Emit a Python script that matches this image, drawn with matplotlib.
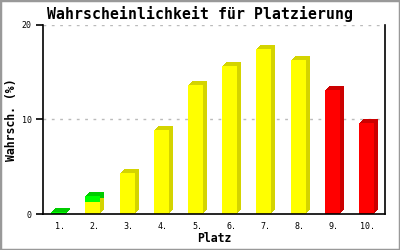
import matplotlib
matplotlib.use("Agg")
import matplotlib.pyplot as plt
import matplotlib.transforms as mtransforms
from matplotlib.patches import Rectangle

places = ["1.", "2.", "3.", "4.", "5.", "6.", "7.", "8.", "9.", "10."]
base_values = [0.0, 1.3, 4.3, 8.9, 13.6, 15.7, 17.5, 16.25, 13.15, 9.65]
top_values = [0.25, 0.65, 0, 0, 0, 0, 0, 0, 0, 0]
base_colors = ["#ffff00"] * 8 + ["#ff0000"] * 2
base_side = ["#d4d400"] * 8 + ["#cc0000"] * 2
top_color = "#00ff00"
top_side = "#00cc00"
y_ticks = [0, 10, 20]

fig = plt.figure(figsize=(4, 2.5), dpi=100)
fig.patches.append(Rectangle((0, 0), 1, 1, transform=fig.transFigure,
                             fill=False, edgecolor="#999999", linewidth=2.5))
ax = fig.add_axes([0.1075, 0.144, 0.855, 0.756])

x = list(range(len(places)))
w = 0.44
xs = [i - 0.04 for i in x]

# extrusion (3D depth) drawn as stacked offset copies of the bars
for d in [1, 2, 3, 4]:
    shadow = mtransforms.offset_copy(ax.transData, fig=fig, x=d, y=d, units="dots")
    ax.bar(xs, base_values, width=w, color=base_side, transform=shadow, zorder=2, linewidth=0)
    ax.bar(xs, top_values, bottom=base_values, width=w, color=top_side, transform=shadow,
           zorder=2, linewidth=0)
ax.bar(xs, base_values, width=w, color=base_colors, zorder=3, linewidth=0)
ax.bar(xs, top_values, bottom=base_values, width=w, color=top_color, zorder=3, linewidth=0)

ax.set_xlim(-0.5, len(places) - 0.5)
ax.set_ylim(0, 20)
ax.set_xticks(x)
ax.set_xticklabels(places, family="DejaVu Sans Mono", fontsize=6)
ax.set_yticks(y_ticks)
ax.set_yticklabels([str(v) for v in y_ticks], family="DejaVu Sans Mono", fontsize=6)
ax.tick_params(axis="x", length=0, pad=6)
ax.tick_params(axis="y", length=5, width=1.2, pad=3)
for yv in y_ticks[1:]:
    ax.axhline(yv, color="#bbbbbb", linestyle=(0, (2, 4)), linewidth=1, zorder=1)
ax.spines["top"].set_visible(False)
for s in ["left", "right", "bottom"]:
    ax.spines[s].set_linewidth(1.2)
    ax.spines[s].set_zorder(4)

ax.set_xlabel("Platz", family="DejaVu Sans Mono", fontweight="bold", fontsize=8.3, va="center")
ax.xaxis.set_label_coords(0.5, -(239 - 214) / 189, transform=ax.transAxes)
ax.set_ylabel("Wahrsch. (%)", family="DejaVu Sans Mono", fontweight="bold", fontsize=8.3, va="center")
ax.yaxis.set_label_coords(-(43 - 12) / 342, 0.5, transform=ax.transAxes)
fig.text(0.5, 0.944, "Wahrscheinlichkeit für Platzierung", ha="center", va="center",
         family="DejaVu Sans Mono", fontweight="bold", fontsize=10.7)

fig.savefig("out.png", dpi=100)
